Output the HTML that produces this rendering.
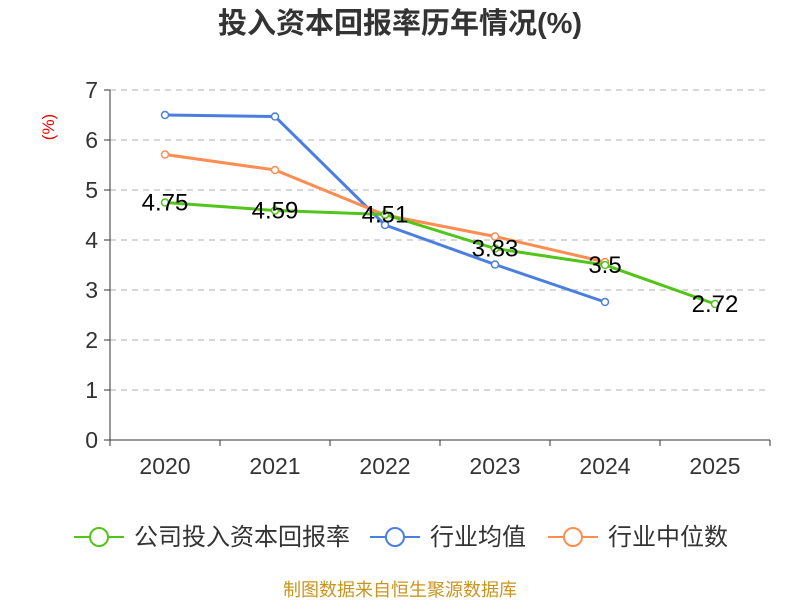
<!DOCTYPE html>
<html><head><meta charset="utf-8"><style>
body{margin:0;background:#fff;font-family:"Liberation Sans","Noto Sans CJK SC",sans-serif}
</style></head><body>
<svg width="800" height="600" xmlns="http://www.w3.org/2000/svg" id="chart">
<text x="400" y="33" text-anchor="middle" font-size="29" font-weight="bold" fill="#333" font-family="Liberation Sans,Noto Sans CJK SC,sans-serif">投入资本回报率历年情况(%)</text>
<text transform="translate(54,127) rotate(-90)" text-anchor="middle" font-size="17" fill="#e00">(%)</text>
<g id="grid"></g><g id="axes"></g><g id="series"></g>
<g font-size="24" fill="#333" font-family="Liberation Sans,Noto Sans CJK SC,sans-serif">
<g><line x1="74" y1="537" x2="124" y2="537" stroke="#52c41a" stroke-width="2"/><circle cx="99" cy="537" r="9" fill="#fff" stroke="#52c41a" stroke-width="2"/><text x="134" y="545">公司投入资本回报率</text></g>
<g><line x1="370" y1="537" x2="420" y2="537" stroke="#4a7fe0" stroke-width="2"/><circle cx="395" cy="537" r="9" fill="#fff" stroke="#4a7fe0" stroke-width="2"/><text x="430" y="545">行业均值</text></g>
<g><line x1="548" y1="537" x2="598" y2="537" stroke="#ff8c50" stroke-width="2"/><circle cx="573" cy="537" r="9" fill="#fff" stroke="#ff8c50" stroke-width="2"/><text x="608" y="545">行业中位数</text></g>
</g>
<text x="400" y="596" text-anchor="middle" font-size="18" fill="#c8961e">制图数据来自恒生聚源数据库</text>
</svg>
<script>
const categories=["2020","2021","2022","2023","2024","2025"];
const companyValues=[4.75,4.59,4.51,3.83,3.5,2.72];
const avgValues=[6.5,6.47,4.3,3.51,2.76];
const medianValues=[5.71,5.4,4.5,4.07,3.56];
const yTicks=[0,1,2,3,4,5,6,7];
const NS="http://www.w3.org/2000/svg";
const x0=110,x1=770,y0=440,yTop=90,yMax=7;
const bw=(x1-x0)/categories.length;
const xs=i=>x0+bw*(i+0.5);
const ys=v=>y0-(v/yMax)*(y0-yTop);
function mk(tag,attrs,parent){const e=document.createElementNS(NS,tag);for(const k in attrs)e.setAttribute(k,attrs[k]);parent.appendChild(e);return e;}
const grid=document.getElementById('grid'),axes=document.getElementById('axes'),ser=document.getElementById('series');
yTicks.forEach(t=>{
 if(t>0){const g=mk('line',{x1:x0,x2:x1,y1:ys(t),y2:ys(t),stroke:'#ccc','stroke-dasharray':'6,5','stroke-width':1.5},grid);
 
 }
 const tk=mk('line',{x1:x0-6,x2:x0,y1:ys(t),y2:ys(t),stroke:'#333'},axes);
 
 
 const tx=mk('text',{x:x0-12,y:ys(t)+8,'text-anchor':'end','font-size':23,fill:'#333'},axes);tx.textContent=t;
 
 
});
const ya=mk('line',{x1:x0,x2:x0,y1:yTop,y2:y0,stroke:'#333'},axes);


const xa=mk('line',{x1:x0,x2:x1,y1:y0,y2:y0,stroke:'#333'},axes);


for(let i=0;i<=categories.length;i++){const t=mk('line',{x1:x0+bw*i,x2:x0+bw*i,y1:y0,y2:y0+6,stroke:'#333'},axes);
 
 }
categories.forEach((c,i)=>{const t=mk('text',{x:xs(i),y:y0+34,'text-anchor':'middle','font-size':23,fill:'#333'},axes);t.textContent=c;
 
 });
function series(vals,color,name,labels){
 const g=mk('g',{},ser);
 
 
 const pl=mk('polyline',{points:vals.map((v,i)=>xs(i)+','+ys(v)).join(' '),fill:'none',stroke:color,'stroke-width':3},g);
 
 
 vals.forEach((v,i)=>{const c=mk('circle',{cx:xs(i),cy:ys(v),r:3.5,fill:'#fff',stroke:color,'stroke-width':1.5},g);
  
  
  if(labels){const t=mk('text',{x:xs(i),y:ys(v)+8,'text-anchor':'middle','font-size':24,fill:'#000'},g);t.textContent=v;
   
   }
 });
}
series(avgValues,'#4a7fe0','industry-avg-series',false);
series(medianValues,'#ff8c50','industry-median-series',false);
series(companyValues,'#52c41a','company-series',true);
</script>
</body></html>
